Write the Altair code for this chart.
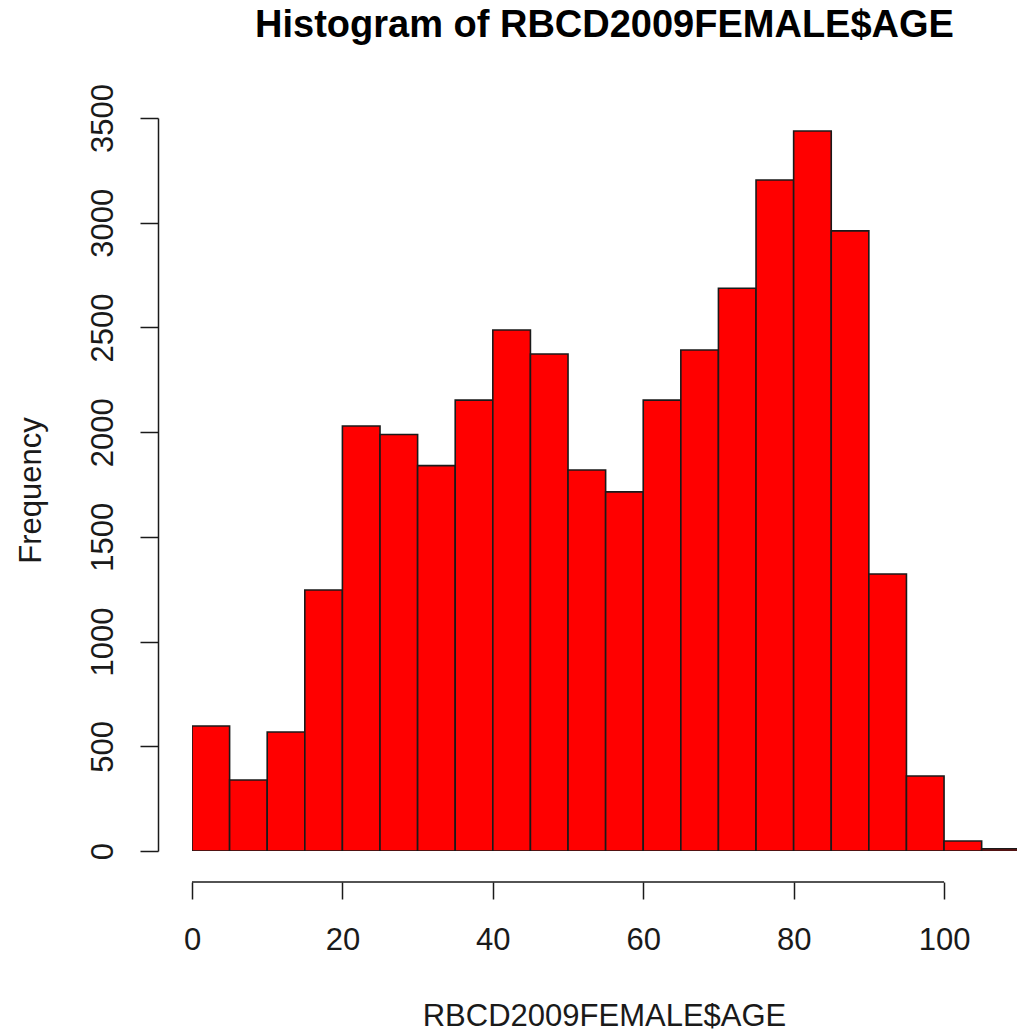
import altair as alt
import pandas as pd

# ---- data ----
title_text = "Histogram of RBCD2009FEMALE$AGE"
bin_starts = [0, 5, 10, 15, 20, 25, 30, 35, 40, 45, 50, 55, 60, 65, 70, 75, 80, 85, 90, 95, 100, 105]
bin_ends = [5, 10, 15, 20, 25, 30, 35, 40, 45, 50, 55, 60, 65, 70, 75, 80, 85, 90, 95, 100, 105, 110]
counts = [597, 339, 568, 1246, 2029, 1989, 1840, 2153, 2488, 2373, 1819, 1715,
          2153, 2392, 2687, 3204, 3438, 2961, 1323, 358, 48, 10]
x_ticks = [0, 20, 40, 60, 80, 100]
y_ticks = [0, 500, 1000, 1500, 2000, 2500, 3000, 3500]

df = pd.DataFrame({"start": bin_starts, "end": bin_ends, "count": counts})

FONT = "Liberation Sans"
TXT = "#1a1a1a"
W, H = 825, 733
X_OFF, Y_OFF = 31, 34

xscale = alt.Scale(domain=[0, 109.7], nice=False, zero=False)
yscale = alt.Scale(domain=[0, 3500], nice=False)

bars = alt.Chart(df).mark_bar(
    color="#ff0000", stroke=TXT, strokeWidth=1.6, clip=True
).encode(
    x=alt.X("start:Q", scale=xscale,
            axis=alt.Axis(values=x_ticks, offset=X_OFF, tickSize=17, domain=False, grid=False,
                          labelFontSize=31, labelFont=FONT, labelColor=TXT, labelPadding=26,
                          labelFlush=False, labelOverlap=False, format="d",
                          tickColor=TXT, tickWidth=1.5,
                          title="RBCD2009FEMALE$AGE", titleFontSize=31, titleFont=FONT,
                          titleFontWeight="normal", titleColor=TXT,
                          titleBaseline="alphabetic", titleAlign="center",
                          titleX=412, titleY=143)),
    x2="end:Q",
    y=alt.Y("count:Q", scale=yscale,
            axis=alt.Axis(values=y_ticks, offset=Y_OFF, tickSize=18, grid=False,
                          domainColor=TXT, domainWidth=1.5, tickColor=TXT, tickWidth=1.5,
                          labelAngle=270, labelAlign="center", labelBaseline="alphabetic",
                          labelPadding=28, labelFontSize=31, labelFont=FONT, labelColor=TXT,
                          labelFlush=False, labelOverlap=False, labelBound=False, format="d",
                          title="Frequency", titleFontSize=31, titleFont=FONT,
                          titleFontWeight="normal", titleColor=TXT, titleAngle=270,
                          titleBaseline="alphabetic", titleAlign="center",
                          titleX=-118, titleY=372)),
    y2=alt.datum(0),
)

xaxis_line = alt.Chart(pd.DataFrame({"a": [0]})).mark_rule(
    color=TXT, strokeWidth=1.5
).encode(
    x=alt.datum(x_ticks[0]),
    x2=alt.datum(x_ticks[-1]),
    y=alt.value(H + X_OFF),
)

title_mark = alt.Chart(pd.DataFrame({"t": [title_text]})).mark_text(
    font=FONT, fontSize=38, fontWeight="bold", color="#000000",
    align="center", baseline="alphabetic"
).encode(
    text="t:N",
    x=alt.value(W / 2),
    y=alt.value(-81),
)

chart = alt.layer(bars, xaxis_line, title_mark).properties(
    width=W,
    height=H,
    background="white",
    autosize=alt.AutoSizeParams(type="none"),
    padding={"left": 192, "top": 118, "right": 0, "bottom": 181},
).configure_view(strokeWidth=0, stroke="transparent")

chart.save("out.html", embed_options={"renderer": "svg", "actions": False})
